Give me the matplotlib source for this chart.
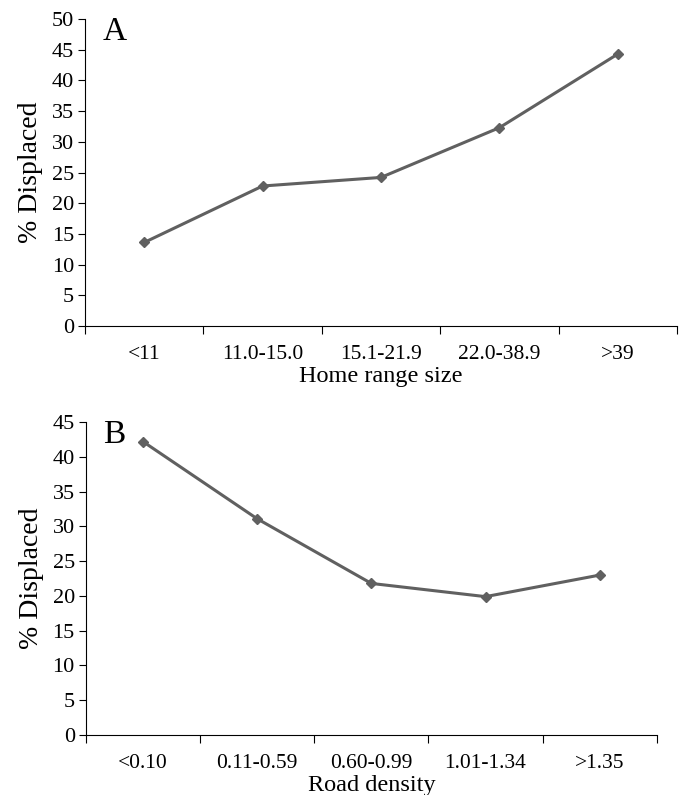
import matplotlib
matplotlib.use("Agg")
import matplotlib.pyplot as plt
import numpy as np

plt.rcParams['font.family'] = ['Liberation Serif', 'DejaVu Serif']

cats_a = ["<11", "11.0-15.0", "15.1-21.9", "22.0-38.9", ">39"]
vals_a = [13.6, 22.8, 24.2, 32.3, 44.3]
cats_b = ["<0.10", "0.11-0.59", "0.60-0.99", "1.01-1.34", ">1.35"]
vals_b = [42.2, 31.1, 21.8, 19.9, 23.0]

fig = plt.figure(figsize=(6.82, 7.95), dpi=100)
ax1 = fig.add_axes([0.1246, 0.590, 0.868, 0.386])
ax2 = fig.add_axes([0.126, 0.0755, 0.837, 0.3935])

def style(ax, cats, vals, ymax, xlabel, letter):
    x = np.arange(len(cats))
    ax.plot(x, vals, color='#606060', lw=2.2, marker='D', markersize=5,
            markerfacecolor='#606060', markeredgecolor='#606060')
    ax.set_xlim(-0.5, len(cats) - 0.5)
    ax.set_ylim(0, ymax)
    ax.set_yticks(np.arange(0, ymax + 1, 5))
    ax.set_xticks(np.arange(-0.5, len(cats), 1.0))
    ax.set_xticklabels([])
    ax.set_xticks(x, minor=True)
    ax.set_xticklabels(cats, minor=True)
    ax.tick_params(axis='x', which='minor', length=0, pad=14, labelsize=15.5)
    ax.tick_params(axis='x', which='major', length=6, direction='out', color='black')
    ax.tick_params(axis='y', length=5, direction='out', labelsize=16, pad=3)
    for s in ['top', 'right']:
        ax.spines[s].set_visible(False)
    ax.set_xlabel(xlabel, fontsize=17.5, labelpad=1)
    ax.set_ylabel("% Displaced", fontsize=20, labelpad=6)
    ax.text(0.03, 1.01, letter, transform=ax.transAxes, fontsize=24,
            va='top', ha='left')

style(ax1, cats_a, vals_a, 50, "Home range size", "A")
style(ax2, cats_b, vals_b, 45, "Road density", "B")

fig.savefig("out.png", dpi=100)
